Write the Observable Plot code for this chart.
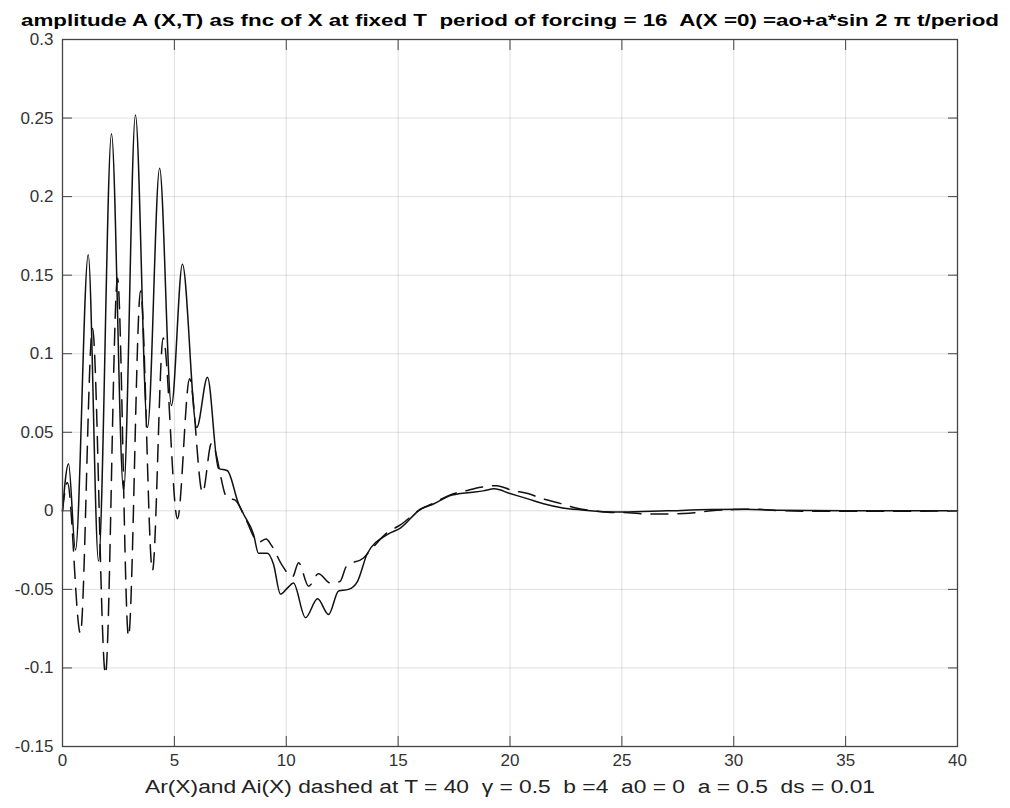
<!DOCTYPE html>
<html>
<head>
<meta charset="utf-8">
<script src="https://cdn.jsdelivr.net/npm/d3@7"></script>
<script src="https://cdn.jsdelivr.net/npm/@observablehq/plot@0.6"></script>
<style>
  html, body { margin: 0; padding: 0; background: #fff; }
  #chart { width: 1010px; height: 808px; }
</style>
</head>
<body>
<div id="chart"></div>
<script>
const titleText = "amplitude A (X,T) as fnc of X at fixed T  period of forcing = 16  A(X =0) =ao+a*sin 2 \u03C0 t/period";
const captionText = "Ar(X)and Ai(X) dashed at T = 40  \u03B3 = 0.5  b =4  a0 = 0  a = 0.5  ds = 0.01";

const xTicks = [0, 5, 10, 15, 20, 25, 30, 35, 40];
const yTicks = [-0.15, -0.1, -0.05, 0, 0.05, 0.1, 0.15, 0.2, 0.25, 0.3];

// Ar(X) solid
const xr = [0, 0.27, 0.58, 1.15, 1.61, 2.19, 2.73, 3.26, 3.80, 4.34, 4.87, 5.36, 6.00, 6.48, 6.97, 7.37, 7.87, 8.09, 8.54, 8.76, 9.16, 9.43, 9.74, 10.06, 10.32, 10.86, 11.40, 11.89, 12.34, 12.78, 13.18, 13.63, 14.53, 15.1, 16.0, 16.6, 17.3, 18.1, 18.8, 19.3, 20.0, 20.8, 21.5, 22.3, 23.2, 25, 27, 29, 30.5, 32, 35, 40];
const ar = [0, 0.030, -0.025, 0.163, -0.032, 0.240, 0.013, 0.252, 0.053, 0.218, 0.067, 0.157, 0.053, 0.085, 0.027, 0.0255, 0.0045, -0.002, -0.015, -0.027, -0.027, -0.034, -0.053, -0.049, -0.046, -0.068, -0.056, -0.066, -0.051, -0.050, -0.045, -0.027, -0.015, -0.011, 0.001, 0.0045, 0.0095, 0.0115, 0.0127, 0.014, 0.011, 0.0076, 0.0045, 0.002, 0.0006, -0.0008, 0, 0.0008, 0.001, 0.0003, 0, 0];

// Ai(X) dashed
const xi = [0, 0.22, 0.80, 1.34, 1.92, 2.46, 2.95, 3.49, 4.02, 4.50, 5.14, 5.68, 6.26, 6.66, 7.37, 7.7, 8.18, 8.76, 9.10, 9.34, 9.83, 10.28, 10.55, 11.0, 11.44, 11.98, 12.4, 12.7, 13.45, 13.77, 14.5, 15.1, 16.0, 16.6, 17.3, 18.1, 18.7, 19.4, 20.1, 20.8, 21.5, 22.3, 22.9, 23.7, 24.5, 25.3, 26, 27, 28, 29, 30, 31, 32, 34, 37, 40];
const ai = [0, 0.018, -0.078, 0.116, -0.104, 0.148, -0.080, 0.140, -0.038, 0.110, -0.005, 0.084, 0.0115, 0.043, 0.008, 0.007, -0.005, -0.02, -0.018, -0.022, -0.035, -0.042, -0.033, -0.048, -0.040, -0.046, -0.045, -0.035, -0.030, -0.025, -0.014, -0.009, 0.001, 0.005, 0.010, 0.013, 0.015, 0.016, 0.013, 0.011, 0.0075, 0.0045, 0.002, 0, -0.001, -0.0012, -0.002, -0.002, -0.0015, 0, 0.0008, 0.001, 0.0002, -0.0003, -0.0003, 0];

const solid = xr.map((x, i) => ({x, y: ar[i]}));
const dashed = xi.map((x, i) => ({x, y: ai[i]}));

const fmt = d => String(+d.toFixed(2));

const chart = Plot.plot({
  width: 1010,
  height: 808,
  marginLeft: 62,
  marginRight: 53,
  marginTop: 39,
  marginBottom: 62,
  style: {fontFamily: "'Liberation Sans', Arial, Helvetica, sans-serif", fontSize: "17px", color: "#333", background: "#fff"},
  x: {domain: [0, 40], label: null},
  y: {domain: [-0.15, 0.3], label: null},
  marks: [
    Plot.gridX(xTicks, {stroke: "#000", strokeOpacity: 0.13}),
    Plot.gridY(yTicks, {stroke: "#000", strokeOpacity: 0.13}),
    Plot.line(dashed, {x: "x", y: "y", curve: "monotone-x", stroke: "#111", strokeWidth: 1.5, strokeDasharray: "17,10"}),
    Plot.line(solid, {x: "x", y: "y", curve: "monotone-x", stroke: "#111", strokeWidth: 1.5}),
    Plot.frame({stroke: "#444", strokeWidth: 1.3}),
    Plot.axisY(yTicks, {anchor: "left", tickSize: -10, tickPadding: 19, tickFormat: fmt, label: null, stroke: "#444"}),
    Plot.axisY(yTicks, {anchor: "right", tickSize: -10, tickFormat: () => "", label: null, stroke: "#444"}),
    Plot.axisX(xTicks, {anchor: "bottom", tickSize: -10, tickPadding: 17, tickFormat: fmt, label: null, stroke: "#444"}),
    Plot.axisX(xTicks, {anchor: "top", tickSize: -10, tickFormat: () => "", label: null, stroke: "#444"}),
    Plot.text([titleText], {frameAnchor: "top", dy: -26, text: d => d, fontWeight: "bold", fontSize: 17, fill: "#000"}),
    Plot.text([captionText], {frameAnchor: "bottom", dy: 46, text: d => d, fontSize: 18, fill: "#222"})
  ]
});

document.getElementById("chart").appendChild(chart);

// fit title and caption to reference widths
chart.querySelectorAll("text").forEach(t => {
  if (t.textContent === titleText) {
    t.setAttribute("textLength", 978);
    t.setAttribute("lengthAdjust", "spacingAndGlyphs");
  } else if (t.textContent === captionText) {
    t.setAttribute("textLength", 730);
    t.setAttribute("lengthAdjust", "spacingAndGlyphs");
  }
});
</script>
</body>
</html>
